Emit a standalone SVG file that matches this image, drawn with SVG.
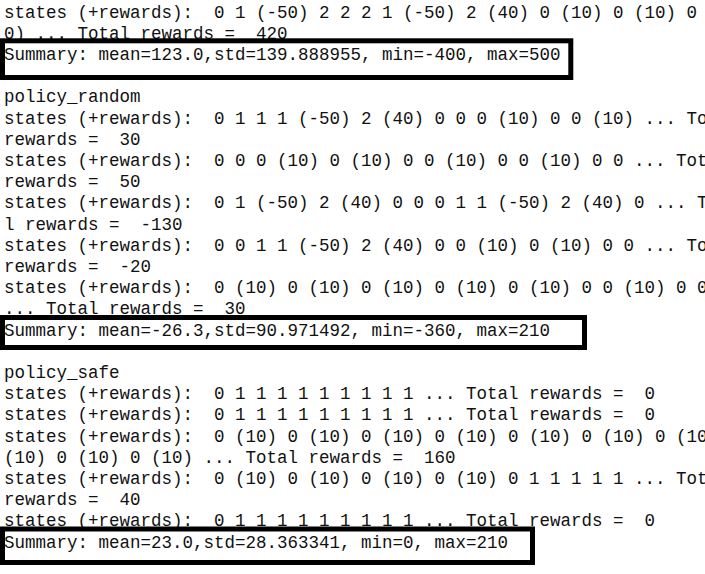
<svg xmlns="http://www.w3.org/2000/svg" width="705" height="574" viewBox="0 0 705 574">
<style>
.t{font-family:"Liberation Mono","Courier New",monospace;font-size:17.5px;fill:#111;white-space:pre}
.box{fill:none;stroke:#000;stroke-width:5}
</style>
<rect width="705" height="574" fill="#fff"/>
<g id="console" xml:space="preserve">
<text class="t" x="4" y="17.5">states (+rewards):  0 1 (-50) 2 2 2 1 (-50) 2 (40) 0 (10) 0 (10) 0</text>
<text class="t" x="4" y="38.7">0) ... Total rewards =  420</text>
<text class="t" x="4" y="59.9">Summary: mean=123.0,std=139.888955, min=-400, max=500</text>
<text class="t" x="4" y="102.3">policy_random</text>
<text class="t" x="4" y="123.5">states (+rewards):  0 1 1 1 (-50) 2 (40) 0 0 0 (10) 0 0 (10) ... To</text>
<text class="t" x="4" y="144.7">rewards =  30</text>
<text class="t" x="4" y="165.9">states (+rewards):  0 0 0 (10) 0 (10) 0 0 (10) 0 0 (10) 0 0 ... Tot</text>
<text class="t" x="4" y="187.1">rewards =  50</text>
<text class="t" x="4" y="208.3">states (+rewards):  0 1 (-50) 2 (40) 0 0 0 1 1 (-50) 2 (40) 0 ... T</text>
<text class="t" x="4" y="229.5">l rewards =  -130</text>
<text class="t" x="4" y="250.7">states (+rewards):  0 0 1 1 (-50) 2 (40) 0 0 (10) 0 (10) 0 0 ... To</text>
<text class="t" x="4" y="271.9">rewards =  -20</text>
<text class="t" x="4" y="293.1">states (+rewards):  0 (10) 0 (10) 0 (10) 0 (10) 0 (10) 0 0 (10) 0 0</text>
<text class="t" x="4" y="314.3">... Total rewards =  30</text>
<text class="t" x="4" y="335.5">Summary: mean=-26.3,std=90.971492, min=-360, max=210</text>
<text class="t" x="4" y="377.9">policy_safe</text>
<text class="t" x="4" y="399.1">states (+rewards):  0 1 1 1 1 1 1 1 1 1 ... Total rewards =  0</text>
<text class="t" x="4" y="420.3">states (+rewards):  0 1 1 1 1 1 1 1 1 1 ... Total rewards =  0</text>
<text class="t" x="4" y="441.5">states (+rewards):  0 (10) 0 (10) 0 (10) 0 (10) 0 (10) 0 (10) 0 (10</text>
<text class="t" x="4" y="462.7">(10) 0 (10) 0 (10) ... Total rewards =  160</text>
<text class="t" x="4" y="483.9">states (+rewards):  0 (10) 0 (10) 0 (10) 0 (10) 0 1 1 1 1 1 ... Tot</text>
<text class="t" x="4" y="505.1">rewards =  40</text>
<text class="t" x="4" y="526.3">states (+rewards):  0 1 1 1 1 1 1 1 1 1 ... Total rewards =  0</text>
<text class="t" x="4" y="547.5">Summary: mean=23.0,std=28.363341, min=0, max=210</text>
</g>
<g id="summary-box-1"><rect class="box" x="2.5" y="40.8" width="568.3" height="36.7"/></g>
<g id="summary-box-2"><rect class="box" x="2.5" y="317.5" width="582" height="30"/></g>
<g id="summary-box-3"><rect class="box" x="2.5" y="529" width="530" height="33.5"/></g>
</svg>
